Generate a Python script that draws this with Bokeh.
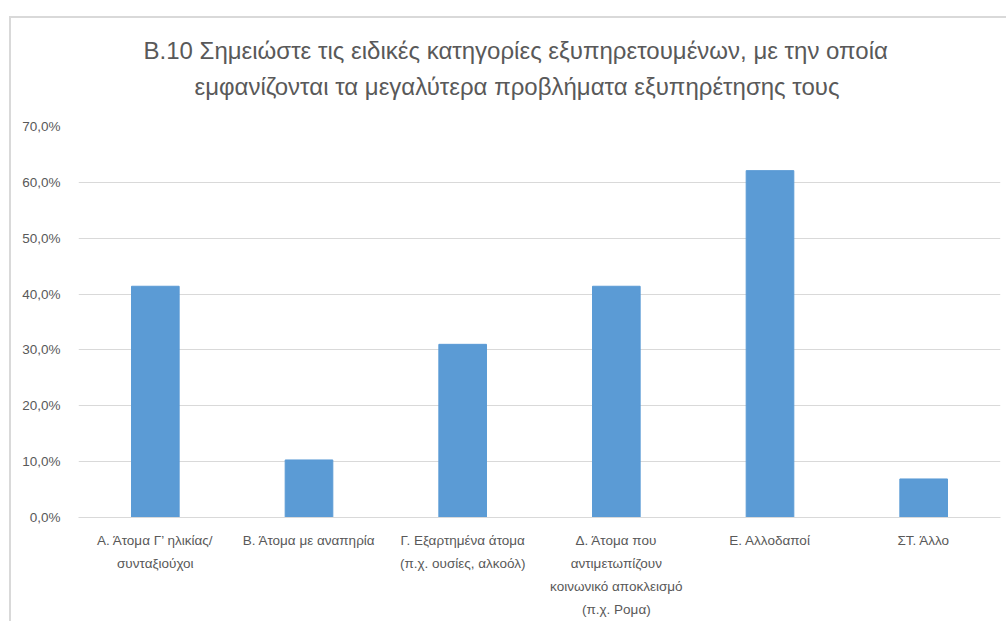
from bokeh.plotting import figure
from bokeh.models import ColumnDataSource, CustomJSTickFormatter, FixedTicker, Title
from bokeh.embed import file_html
from bokeh.resources import INLINE

categories = [
    "Α. Άτομα Γ’ ηλικίας/\nσυνταξιούχοι",
    "Β. Άτομα με αναπηρία",
    "Γ. Εξαρτημένα άτομα\n(π.χ. ουσίες, αλκοόλ)",
    "Δ. Άτομα που\nαντιμετωπίζουν\nκοινωνικό αποκλεισμό\n(π.χ. Ρομα)",
    "Ε. Αλλοδαποί",
    "ΣΤ. Άλλο",
]
values = [41.4, 10.3, 31.0, 41.4, 62.1, 6.9]
y_ticks = [0, 10, 20, 30, 40, 50, 60, 70]
title_line1 = "Β.10 Σημειώστε τις ειδικές κατηγορίες εξυπηρετουμένων, με την οποία"
title_line2 = "εμφανίζονται τα μεγαλύτερα προβλήματα εξυπηρέτησης τους"

FONT = "Liberation Sans"
TXT = "#595959"

source = ColumnDataSource(data=dict(cat=categories, val=values))

p = figure(x_range=categories, y_range=(0, 70), width=997, height=605,
           output_backend="svg", toolbar_location=None,
           min_border_left=67, min_border_right=8, min_border_bottom=106,
           min_border_top=108)
p.styles = {"margin-left": "9px", "margin-top": "16px",
            "border-left": "2px solid #D9D9D9", "border-top": "2px solid #D9D9D9"}

p.title.visible = False
t2 = Title(text=title_line2, align="left", text_font=FONT, text_font_size="24px",
           text_font_style="normal", text_color=TXT, standoff=54, offset=116)
t1 = Title(text=title_line1, align="left", text_font=FONT, text_font_size="24px",
           text_font_style="normal", text_color=TXT, standoff=-40, offset=65)
p.add_layout(t2, "above")
p.add_layout(t1, "above")

p.vbar(x="cat", top="val", width=0.31, source=source, color="#5B9BD5")

p.outline_line_color = None
p.background_fill_color = "white"
p.border_fill_color = "white"

p.xgrid.grid_line_color = None
p.ygrid.grid_line_color = "#D9D9D9"
p.ygrid.grid_line_width = 1

p.yaxis.ticker = FixedTicker(ticks=y_ticks)
p.yaxis.formatter = CustomJSTickFormatter(code="return tick.toFixed(1).replace('.', ',') + '%';")
p.yaxis.axis_line_color = None
p.yaxis.major_tick_line_color = None
p.yaxis.minor_tick_line_color = None
p.yaxis.major_label_text_font = FONT
p.yaxis.major_label_text_font_size = "13.5px"
p.yaxis.major_label_text_color = TXT
p.yaxis.major_label_standoff = 12

p.xaxis.axis_line_color = "#D9D9D9"
p.xaxis.major_tick_line_color = None
p.xaxis.minor_tick_line_color = None
p.xaxis.major_label_text_font = FONT
p.xaxis.major_label_text_font_size = "13.5px"
p.xaxis.major_label_text_color = TXT
p.xaxis.major_label_text_line_height = 1.55
p.xaxis.major_label_standoff = 9

open("out.html", "w").write(file_html(p, INLINE))
